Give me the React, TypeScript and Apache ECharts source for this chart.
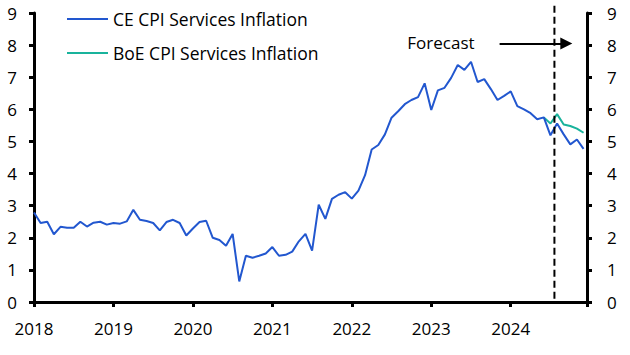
import React, { useEffect, useRef } from "react";
import * as echarts from "echarts";

// Monthly, Jan 2018 .. Dec 2024
const START_YEAR = 2018;
const ceServices = [
  2.79, 2.46, 2.5, 2.11, 2.34, 2.31, 2.31, 2.5, 2.35, 2.47, 2.5, 2.41,
  2.46, 2.44, 2.51, 2.87, 2.56, 2.52, 2.46, 2.23, 2.49, 2.56, 2.46, 2.07,
  2.29, 2.49, 2.53, 2.0, 1.93, 1.75, 2.12, 0.64, 1.44, 1.38, 1.44, 1.51,
  1.71, 1.44, 1.47, 1.57, 1.89, 2.12, 1.6, 3.03, 2.59, 3.21, 3.34, 3.42,
  3.22, 3.47, 3.95, 4.75, 4.89, 5.22, 5.74, 5.94, 6.16, 6.29, 6.38, 6.81,
  5.98, 6.59, 6.67, 6.98, 7.38, 7.23, 7.48, 6.85, 6.94, 6.63, 6.29, 6.42,
  6.56, 6.1, 6.0, 5.88, 5.69, 5.75, 5.19, 5.56, 5.22, 4.91, 5.06, 4.77,
];
// BoE forecast, Jun 2024 .. Dec 2024
const boeStartIndex = 77;
const boeServices = [5.75, 5.56, 5.85, 5.53, 5.48, 5.4, 5.27];

const yearTicks = [2018, 2019, 2020, 2021, 2022, 2023, 2024];
const forecastStart = 2024.55;
const arrowLevel = 8.05;
const arrowFrom = 2023.86;
const arrowTo = 2024.7;

const FONT = "'Open Sans', 'Noto Sans', sans-serif";
const BLUE = "#2257cf";
const TEAL = "#19b39c";

export default function App() {
  const ref = useRef<HTMLDivElement>(null);
  useEffect(() => {
    if (!ref.current) return;
    const chart = echarts.init(ref.current, undefined, { renderer: "svg" });
    const ceData = ceServices.map((v, i) => [START_YEAR + i / 12, v]);
    const boeData = boeServices.map((v, i) => [START_YEAR + (boeStartIndex + i) / 12, v]);
    const yAxisCommon = {
      type: "value" as const,
      min: 0,
      max: 9,
      interval: 1,
      splitLine: { show: false },
      axisLine: { show: true, lineStyle: { color: "#000", width: 3 } },
      axisTick: { show: true, length: 5, lineStyle: { color: "#000", width: 3 } },
    };
    const labelStyle = { color: "#000", fontSize: 17, fontFamily: FONT };
    chart.setOption({
      animation: false,
      grid: { left: 34, right: 43, top: 13, bottom: 53, containLabel: false },
      legend: {
        orient: "vertical",
        left: 62,
        top: 5,
        icon: "rect",
        itemWidth: 41,
        itemHeight: 2,
        itemGap: 16,
        textStyle: { color: "#000", fontSize: 17.5, fontFamily: FONT },
        data: ["CE CPI Services Inflation", "BoE CPI Services Inflation"],
      },
      xAxis: {
        type: "value",
        min: START_YEAR,
        max: 2024.96,
        interval: 1,
        splitLine: { show: false },
        axisLine: { show: true, onZero: false, lineStyle: { color: "#000", width: 3 } },
        axisTick: { show: true, length: 5, lineStyle: { color: "#000", width: 3 } },
        axisLabel: {
          ...labelStyle,
          margin: 18,
          formatter: (v: number) => (yearTicks.includes(Math.round(v * 1000) / 1000) ? String(v) : ""),
        },
      },
      yAxis: [
        { ...yAxisCommon, position: "left", axisLabel: { ...labelStyle, margin: 17 } },
        { ...yAxisCommon, position: "right", axisLabel: { ...labelStyle, margin: 20 } },
      ],
      series: [
        {
          name: "CE CPI Services Inflation",
          type: "line",
          data: ceData,
          symbol: "none",
          lineStyle: { color: BLUE, width: 2 },
          itemStyle: { color: BLUE },
          z: 3,
          markLine: {
            silent: true,
            symbol: ["none", "triangle"],
            symbolSize: [12, 12],
            label: { show: false },
            lineStyle: { color: "#000", width: 2, type: "solid" },
            data: [[{ coord: [arrowFrom, arrowLevel] }, { coord: [arrowTo, arrowLevel] }]],
          },
        },
        {
          name: "BoE CPI Services Inflation",
          type: "line",
          data: boeData,
          symbol: "none",
          lineStyle: { color: TEAL, width: 2 },
          itemStyle: { color: TEAL },
          z: 2,
        },
      ],
    });
    const bottom = chart.convertToPixel({ xAxisIndex: 0, yAxisIndex: 0 }, [forecastStart, 0.1]) as number[];
    const top = chart.convertToPixel({ xAxisIndex: 0, yAxisIndex: 0 }, [forecastStart, 9.35]) as number[];
    const textPos = chart.convertToPixel({ xAxisIndex: 0, yAxisIndex: 0 }, [arrowFrom, arrowLevel]) as number[];
    chart.setOption({
      graphic: [
        {
          type: "line",
          shape: { x1: bottom[0], y1: bottom[1], x2: top[0], y2: top[1] },
          style: { stroke: "#000", lineWidth: 2, lineDash: [7, 4] },
          z: 10,
        },
        {
          type: "text",
          x: textPos[0] - 25,
          y: textPos[1] - 1,
          style: {
            text: "Forecast",
            fill: "#000",
            fontSize: 17,
            fontFamily: FONT,
            align: "right",
            verticalAlign: "middle",
          },
        },
      ],
    });
    return () => chart.dispose();
  }, []);
  return (
    <div
      ref={ref}
      style={{ position: "absolute", left: 0, top: 0, width: 630, height: 355 }}
    />
  );
}
